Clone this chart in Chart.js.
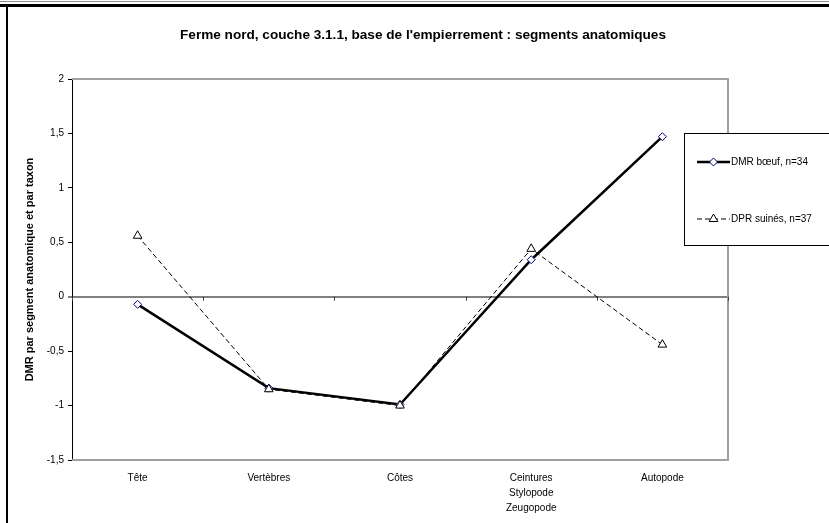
<!DOCTYPE html>
<html lang="fr">
<head>
<meta charset="utf-8">
<title>Ferme nord, couche 3.1.1</title>
<script src="https://cdn.jsdelivr.net/npm/chart.js@4.4.1/dist/chart.umd.min.js"></script>
<style>
    html, body { margin: 0; padding: 0; background: #fff; }
    #segmentsChart { display: block; }
</style>
</head>
<body>
<canvas id="segmentsChart" width="829" height="523"></canvas>
<script>
// ========== DONNÉES ==========
const segments = ['Tête', 'Vertèbres', 'Côtes', ['Ceintures', 'Stylopode', 'Zeugopode'], 'Autopode'];
const dmrBoeuf = [-0.07, -0.84, -0.99, 0.34, 1.47];
const dprSuines = [0.56, -0.85, -1.0, 0.44, -0.44];
const serieNoms = ['DMR bœuf, n=34', 'DPR suinés, n=37'];
const yTicks = [-1.5, -1, -0.5, 0, 0.5, 1, 1.5, 2];

const police = '"Liberation Sans", Arial, sans-serif';

// ========== CADRE, ZONE DE TRACÉ ET LÉGENDE ==========
const cadrePlugin = {
    id: 'cadre',
    beforeDraw(chart) {
        const ctx = chart.ctx;
        ctx.save();
        ctx.fillStyle = '#ffffff';
        ctx.fillRect(0, 0, chart.width, chart.height);
        ctx.fillStyle = '#8c8c8c';
        ctx.fillRect(0, 1, chart.width, 1);
        ctx.fillStyle = '#000000';
        ctx.fillRect(0, 4, chart.width, 3);
        ctx.fillRect(6, 4, 2, chart.height - 4);
        ctx.restore();
    },
    beforeDatasetsDraw(chart) {
        const { ctx, chartArea, scales } = chart;
        ctx.save();
        // bordure grise du tracé (haut, droite, bas)
        ctx.strokeStyle = '#a0a0a0';
        ctx.lineWidth = 2;
        ctx.beginPath();
        ctx.moveTo(chartArea.left, chartArea.top);
        ctx.lineTo(chartArea.right, chartArea.top);
        ctx.lineTo(chartArea.right, chartArea.bottom);
        ctx.lineTo(chartArea.left, chartArea.bottom);
        ctx.stroke();
        // graduations de l'axe des catégories sur la ligne du zéro
        const y0 = scales.y.getPixelForValue(0);
        ctx.strokeStyle = '#404040';
        ctx.lineWidth = 1;
        ctx.beginPath();
        for (let i = 0; i <= segments.length; i++) {
            const x = Math.round(scales.x.getPixelForValue(i - 0.5)) + 0.5;
            ctx.moveTo(x, y0);
            ctx.lineTo(x, y0 + 4);
        }
        ctx.stroke();
        ctx.restore();
    },
    afterDraw(chart) {
        const ctx = chart.ctx;
        const box = { left: 684.5, top: 133.5, right: 832, bottom: 245.5 };
        ctx.save();
        ctx.fillStyle = '#ffffff';
        ctx.fillRect(box.left, box.top, box.right - box.left, box.bottom - box.top);
        ctx.strokeStyle = '#000000';
        ctx.lineWidth = 1;
        ctx.strokeRect(box.left, box.top, box.right - box.left, box.bottom - box.top);

        const rangs = [162, 219];
        chart.data.datasets.forEach((ds, i) => {
            const y = rangs[i];
            ctx.strokeStyle = ds.borderColor;
            ctx.lineWidth = ds.borderWidth;
            ctx.setLineDash(ds.borderDash || []);
            ctx.beginPath();
            ctx.moveTo(697, y);
            ctx.lineTo(730, y);
            ctx.stroke();
            ctx.setLineDash([]);
            ctx.strokeStyle = ds.pointBorderColor;
            ctx.fillStyle = ds.pointBackgroundColor;
            ctx.lineWidth = ds.pointBorderWidth;
            Chart.helpers.drawPoint(ctx, {
                pointStyle: ds.pointStyle,
                radius: ds.pointRadius,
                rotation: 0,
                borderWidth: ds.pointBorderWidth
            }, 713.5, y);
            ctx.fillStyle = '#000000';
            ctx.font = '10px ' + police;
            ctx.textBaseline = 'middle';
            ctx.textAlign = 'left';
            ctx.fillText(ds.label, 731, y);
        });
        ctx.restore();
    }
};

// ========== GRAPHIQUE ==========
new Chart(document.getElementById('segmentsChart'), {
    type: 'line',
    data: {
        labels: segments,
        datasets: [
            {
                label: serieNoms[0],
                data: dmrBoeuf,
                borderColor: '#000000',
                borderWidth: 2.5,
                pointStyle: 'rectRot',
                pointRadius: 4,
                pointBorderColor: '#000080',
                pointBackgroundColor: '#ffffff',
                pointBorderWidth: 1,
                tension: 0,
                order: 1
            },
            {
                label: serieNoms[1],
                data: dprSuines,
                borderColor: '#000000',
                borderWidth: 1,
                borderDash: [5, 3],
                pointStyle: 'triangle',
                pointRadius: 5,
                pointBorderColor: '#000000',
                pointBackgroundColor: '#ffffff',
                pointBorderWidth: 1,
                tension: 0,
                order: 0
            }
        ]
    },
    options: {
        responsive: false,
        animation: false,
        devicePixelRatio: 1,
        layout: { padding: { left: 17, right: 0, top: 0, bottom: 0 } },
        plugins: {
            legend: { display: false },
            tooltip: { enabled: false },
            title: {
                display: true,
                text: "Ferme nord, couche 3.1.1, base de l'empierrement : segments anatomiques",
                color: '#000000',
                font: { family: police, size: 13.6, weight: 'bold' },
                padding: { top: 26.8, bottom: 35.9 }
            }
        },
        scales: {
            x: {
                offset: true,
                grid: { display: false },
                border: { display: false },
                ticks: {
                    color: '#000000',
                    font: { family: police, size: 10, lineHeight: 1.5 },
                    padding: 3,
                    maxRotation: 0,
                    autoSkip: false
                },
                afterFit(scale) { scale.height = 63; }
            },
            y: {
                min: yTicks[0],
                max: yTicks[yTicks.length - 1],
                afterBuildTicks(scale) { scale.ticks = yTicks.map(v => ({ value: v })); },
                border: { display: true, color: '#000000', width: 1 },
                grid: {
                    color: ctx => ctx.tick && ctx.tick.value === 0 ? '#808080' : 'rgba(0,0,0,0)',
                    lineWidth: ctx => ctx.tick && ctx.tick.value === 0 ? 2 : 1,
                    tickColor: '#000000',
                    tickLength: 4,
                    tickWidth: 1
                },
                ticks: {
                    color: '#000000',
                    font: { family: police, size: 10 },
                    padding: 4,
                    callback: value => String(value).replace('.', ',')
                },
                title: {
                    display: true,
                    text: 'DMR par segment anatomique et par taxon',
                    color: '#000000',
                    font: { family: police, size: 11, weight: 'bold' },
                    padding: { top: 6, bottom: 0 }
                },
                afterFit(scale) { scale.width = 55; }
            },
            // marge vide à droite, réservée à la légende
            marge: {
                type: 'linear',
                position: 'right',
                display: true,
                grid: { display: false },
                border: { display: false },
                ticks: { display: false },
                afterFit(scale) { scale.width = 101; }
            }
        }
    },
    plugins: [cadrePlugin]
});
</script>
</body>
</html>
